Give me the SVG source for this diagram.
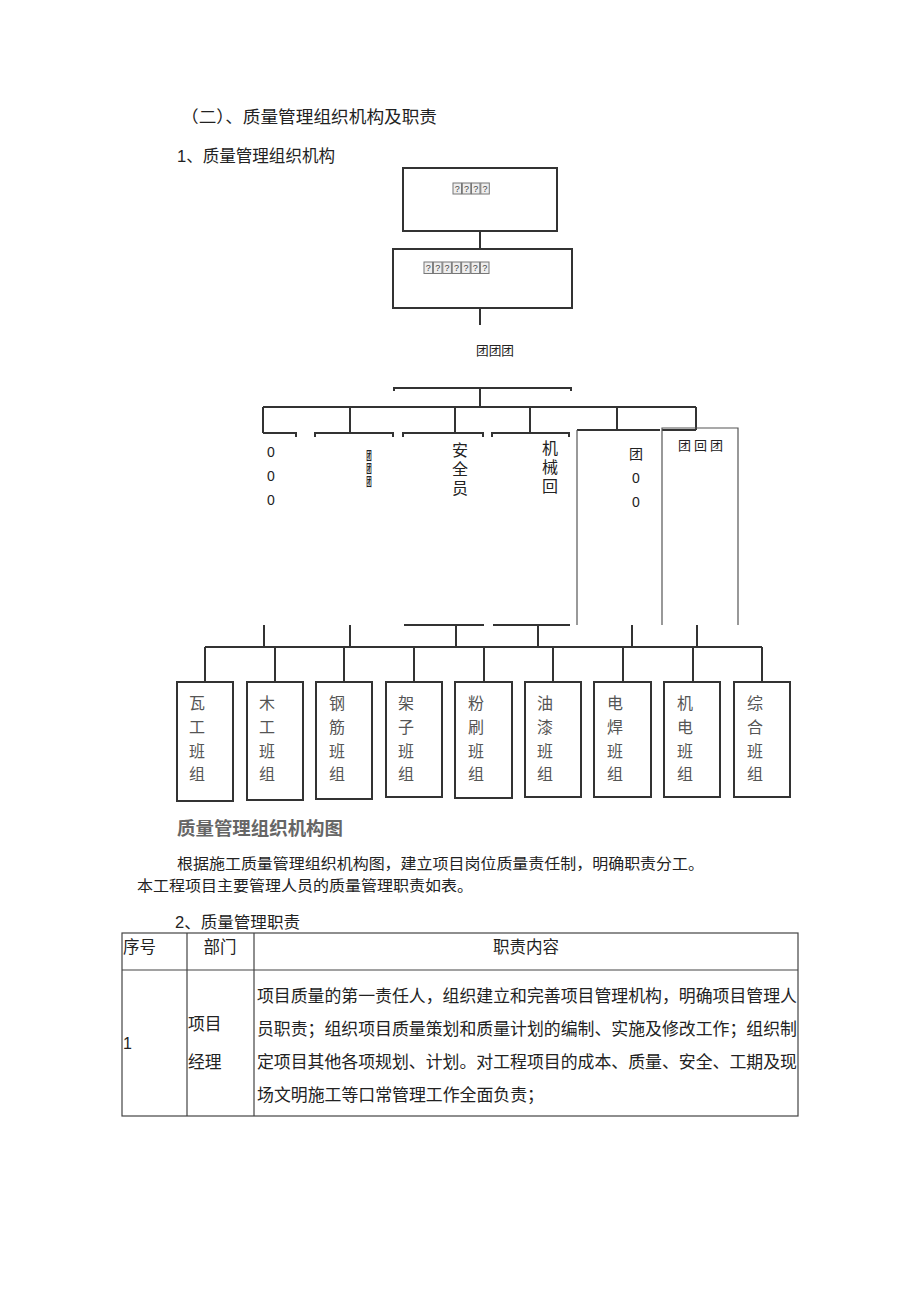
<svg xmlns="http://www.w3.org/2000/svg" width="920" height="1301" viewBox="0 0 920 1301">
<style>
.t{font-family:"Liberation Sans","Noto Sans CJK SC",sans-serif;fill:#222}
.c{font-family:"Noto Sans CJK SC",sans-serif;fill:#222}
.v{font-family:"Noto Sans CJK SC",sans-serif;fill:#222;writing-mode:vertical-rl}
.ln{stroke:#333;stroke-width:2;fill:none}
.thin{stroke:#555;stroke-width:1.2;fill:none}
.box{fill:none;stroke:#333;stroke-width:2}
.team{font-family:"Noto Sans CJK SC",sans-serif;font-size:16px;fill:#555;text-anchor:middle}
.q{fill:#eee;stroke:#777;stroke-width:1}
.qt{font-family:"Liberation Sans",sans-serif;font-size:9px;fill:#444;text-anchor:middle}
.tb{fill:none;stroke:#444;stroke-width:1.2}
</style>
<rect width="920" height="1301" fill="#fff"/>

<g id="headings">
<text class="c" x="181" y="123" font-size="16.5" textLength="256" lengthAdjust="spacingAndGlyphs">（二）、质量管理组织机构及职责</text>
<text class="t" x="177" y="162" font-size="16.5" textLength="158" lengthAdjust="spacingAndGlyphs">1、质量管理组织机构</text>
</g>

<g id="node-top">
<rect class="box" x="403" y="168" width="154" height="63"/>
<rect class="q" x="453" y="183" width="8.5" height="11"/><text class="qt" x="457.2" y="192">?</text>
<rect class="q" x="462.3" y="183" width="8.5" height="11"/><text class="qt" x="466.5" y="192">?</text>
<rect class="q" x="471.5" y="183" width="8.5" height="11"/><text class="qt" x="475.7" y="192">?</text>
<rect class="q" x="480.8" y="183" width="8.5" height="11"/><text class="qt" x="485" y="192">?</text>
</g>

<g id="node-second">
<rect class="box" x="393" y="249" width="179" height="59"/>
<rect class="q" x="424" y="262" width="8.6" height="11.5"/><text class="qt" x="428.3" y="271">?</text>
<rect class="q" x="433.4" y="262" width="8.6" height="11.5"/><text class="qt" x="437.7" y="271">?</text>
<rect class="q" x="442.8" y="262" width="8.6" height="11.5"/><text class="qt" x="447.1" y="271">?</text>
<rect class="q" x="452.2" y="262" width="8.6" height="11.5"/><text class="qt" x="456.5" y="271">?</text>
<rect class="q" x="461.6" y="262" width="8.6" height="11.5"/><text class="qt" x="465.9" y="271">?</text>
<rect class="q" x="471" y="262" width="8.6" height="11.5"/><text class="qt" x="475.3" y="271">?</text>
<rect class="q" x="480.4" y="262" width="8.6" height="11.5"/><text class="qt" x="484.7" y="271">?</text>
</g>

<g id="node-third">
<text class="c" x="476" y="355" font-size="13" textLength="38" lengthAdjust="spacingAndGlyphs">团团团</text>
</g>

<g id="connectors">
<path class="ln" d="M480 231V249M480 308V325"/>
<path class="ln" d="M394 391V388H571V391M480 388V407"/>
<path class="ln" d="M263 407H696"/>
<path class="ln" d="M263 407V433M350 407V433M455 407V433M530 407V433M617 407V430M696 407V430"/>
<path class="ln" d="M263 433H296V437M315 437V433H393V437M403 437V433H483V437M492 437V433H569V437"/>
<path class="ln" d="M577 430H660M662 430H696"/>
<path class="ln" d="M404 625H484M493 625H570"/>
<path class="ln" d="M264 625V647M350 625V647M456 625V647M538 625V647M632 625V647M697 625V647"/>
<path class="ln" d="M205 647H762"/>
<path class="ln" d="M205 647V682M275 647V682M344 647V682M414 647V682M484 647V682M553 647V682M623 647V682M693 647V682M762 647V682"/>
</g>

<g id="node-zero">
<text class="t" x="271" y="457" font-size="14" text-anchor="middle">0</text>
<text class="t" x="271" y="481" font-size="14" text-anchor="middle">0</text>
<text class="t" x="271" y="505" font-size="14" text-anchor="middle">0</text>
</g>

<g id="node-small">
<g transform="translate(369 0) scale(0.5 1)">
<text class="v" x="0" y="450" font-size="11" font-weight="bold" letter-spacing="2">团团团</text>
</g>
</g>

<g id="node-safety">
<text class="v" x="460" y="442" font-size="16" letter-spacing="3">安全员</text>
</g>

<g id="node-machine">
<text class="v" x="550" y="440" font-size="16" letter-spacing="3">机械回</text>
</g>

<g id="node-box-a">
<path class="thin" d="M577 430V625"/>
<text class="c" x="636" y="459" font-size="14" text-anchor="middle">团</text>
<text class="t" x="636" y="483" font-size="14" text-anchor="middle">0</text>
<text class="t" x="636" y="507" font-size="14" text-anchor="middle">0</text>
</g>

<g id="node-box-b">
<path class="thin" d="M662 625V428H738V625"/>
<text class="c" x="678" y="450" font-size="13" textLength="45" lengthAdjust="spacing">团回团</text>
</g>

<g id="team-1"><rect class="box" x="177" y="682" width="56" height="119"/>
<text class="team" x="197" y="709">瓦</text><text class="team" x="197" y="733">工</text><text class="team" x="197" y="757">班</text><text class="team" x="197" y="780">组</text></g>
<g id="team-2"><rect class="box" x="247" y="682" width="56" height="118"/>
<text class="team" x="267" y="709">木</text><text class="team" x="267" y="733">工</text><text class="team" x="267" y="757">班</text><text class="team" x="267" y="780">组</text></g>
<g id="team-3"><rect class="box" x="316" y="682" width="56" height="117"/>
<text class="team" x="337" y="709">钢</text><text class="team" x="337" y="733">筋</text><text class="team" x="337" y="757">班</text><text class="team" x="337" y="780">组</text></g>
<g id="team-4"><rect class="box" x="386" y="682" width="56" height="115"/>
<text class="team" x="406" y="709">架</text><text class="team" x="406" y="733">子</text><text class="team" x="406" y="757">班</text><text class="team" x="406" y="780">组</text></g>
<g id="team-5"><rect class="box" x="455" y="682" width="57" height="116"/>
<text class="team" x="476" y="709">粉</text><text class="team" x="476" y="733">刷</text><text class="team" x="476" y="757">班</text><text class="team" x="476" y="780">组</text></g>
<g id="team-6"><rect class="box" x="525" y="682" width="56" height="115"/>
<text class="team" x="545" y="709">油</text><text class="team" x="545" y="733">漆</text><text class="team" x="545" y="757">班</text><text class="team" x="545" y="780">组</text></g>
<g id="team-7"><rect class="box" x="594" y="682" width="57" height="115"/>
<text class="team" x="615" y="709">电</text><text class="team" x="615" y="733">焊</text><text class="team" x="615" y="757">班</text><text class="team" x="615" y="780">组</text></g>
<g id="team-8"><rect class="box" x="664" y="682" width="56" height="115"/>
<text class="team" x="685" y="709">机</text><text class="team" x="685" y="733">电</text><text class="team" x="685" y="757">班</text><text class="team" x="685" y="780">组</text></g>
<g id="team-9"><rect class="box" x="734" y="682" width="56" height="115"/>
<text class="team" x="755" y="709">综</text><text class="team" x="755" y="733">合</text><text class="team" x="755" y="757">班</text><text class="team" x="755" y="780">组</text></g>

<g id="caption">
<text class="c" x="177" y="835" font-size="18" font-weight="bold" style="fill:#666" textLength="166" lengthAdjust="spacingAndGlyphs">质量管理组织机构图</text>
</g>

<g id="paragraph">
<text class="c" x="177" y="869" font-size="15" textLength="527" lengthAdjust="spacingAndGlyphs">根据施工质量管理组织机构图，建立项目岗位质量责任制，明确职责分工。</text>
<text class="c" x="137" y="891" font-size="15" textLength="336" lengthAdjust="spacingAndGlyphs">本工程项目主要管理人员的质量管理职责如表。</text>
<text class="t" x="175" y="928" font-size="16" textLength="125" lengthAdjust="spacingAndGlyphs">2、质量管理职责</text>
</g>

<g id="table">
<rect class="tb" x="122" y="933" width="676" height="183"/>
<path class="tb" d="M122 970H798M187 933V1116M254 933V1116"/>
<text class="c" x="123" y="953" font-size="16.5">序号</text>
<text class="c" x="220" y="953" font-size="16.5" text-anchor="middle">部门</text>
<text class="c" x="526" y="953" font-size="16.5" text-anchor="middle">职责内容</text>
<text class="t" x="123" y="1049" font-size="16">1</text>
<text class="c" x="188" y="1030" font-size="16.8">项目</text>
<text class="c" x="188" y="1068" font-size="16.8">经理</text>
<text class="c" x="257" y="1002" font-size="16.8" textLength="540" lengthAdjust="spacingAndGlyphs">项目质量的第一责任人，组织建立和完善项目管理机构，明确项目管理人</text>
<text class="c" x="257" y="1035" font-size="16.8" textLength="540" lengthAdjust="spacingAndGlyphs">员职责；组织项目质量策划和质量计划的编制、实施及修改工作；组织制</text>
<text class="c" x="257" y="1068" font-size="16.8" textLength="540" lengthAdjust="spacingAndGlyphs">定项目其他各项规划、计划。对工程项目的成本、质量、安全、工期及现</text>
<text class="c" x="257" y="1101" font-size="16.8" textLength="287" lengthAdjust="spacingAndGlyphs">场文明施工等口常管理工作全面负责；</text>
</g>
</svg>
